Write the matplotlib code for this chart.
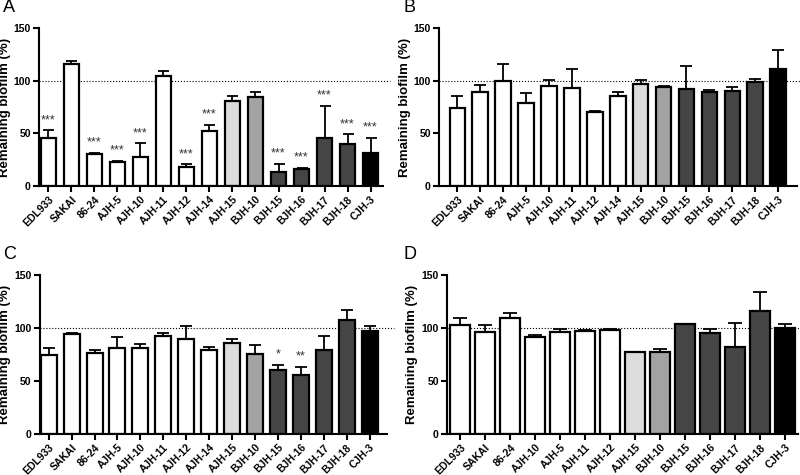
import numpy as np
import matplotlib
matplotlib.use("Agg")
import matplotlib.pyplot as plt

plt.rcParams['font.family'] = ['Liberation Sans', 'DejaVu Sans']

# strain labels
strains_abc = ['EDL933', 'SAKAI', '86-24', 'AJH-5', 'AJH-10', 'AJH-11', 'AJH-12',
               'AJH-14', 'AJH-15', 'BJH-10', 'BJH-15', 'BJH-16', 'BJH-17', 'BJH-18', 'CJH-3']
strains_d = ['EDL933', 'SAKAI', '86-24', 'AJH-10', 'AJH-5', 'AJH-11', 'AJH-12',
             'AJH-15', 'BJH-10', 'BJH-15', 'BJH-16', 'BJH-17', 'BJH-18', 'CJH-3']

# group colours for each strain
group_color = {'AJH-15': '#dcdcdc', 'BJH-10': '#a3a3a3', 'BJH-15': '#454545',
               'BJH-16': '#454545', 'BJH-17': '#454545', 'BJH-18': '#454545',
               'CJH-3': '#000000'}

# remaining biofilm (%) and upper error
mean_a = [45.5, 115.5, 30, 22.5, 28, 104.5, 18.5, 52.5, 80.5, 84.5, 13, 16, 46, 40, 31]
err_a = [7.5, 3, 1.5, 1.5, 12.5, 4.5, 2, 5.5, 5, 5, 8, 1, 30, 9, 14.5]
sig_a = ['***', '', '***', '***', '***', '', '***', '***', '', '', '***', '***', '***', '***', '***']

mean_b = [74.5, 89.5, 100, 79, 94.5, 93.5, 70, 85.5, 96.5, 94, 92, 89, 90, 98.5, 111]
err_b = [11, 6, 15.5, 9, 6.5, 18, 1.5, 4, 4, 1, 22, 2.5, 4, 3, 18.5]

mean_c = [74.5, 94, 76.7, 81.4, 80.8, 92.8, 89.3, 78.9, 85.8, 75.5, 60, 56, 79.2, 107.5, 97]
err_c = [7, 1, 2.5, 10, 4.4, 2.5, 12.6, 3.5, 3.5, 8.5, 5.4, 7.2, 13.6, 9.5, 5.3]
sig_c = ['', '', '', '', '', '', '', '', '', '', '*', '**', '', '', '']

mean_d = [103, 96.5, 109.7, 91.5, 96, 97.2, 98.4, 77, 77, 103.5, 95.6, 81.8, 116, 99.7]
err_d = [6, 6.6, 4.8, 2.2, 2.8, 0.9, 0.3, 0.3, 3.2, 0.3, 3.4, 23, 17.6, 4.4]

fig = plt.figure(figsize=(8, 4.75), dpi=100)

panels = [
    ('A', strains_abc, mean_a, err_a, sig_a, [0.049, 0.6084, 0.43, 0.3326], (-0.4, 14.55), 0.66, 0.004),
    ('B', strains_abc, mean_b, err_b, None, [0.549, 0.6084, 0.4475, 0.3326], (-0.79, 14.83), 0.68, 0.504),
    ('C', strains_abc, mean_c, err_c, sig_c, [0.05, 0.0863, 0.434, 0.3347], (-0.38, 14.77), 0.7, 0.004),
    ('D', strains_d, mean_d, err_d, None, [0.5588, 0.0863, 0.439, 0.3347], (-0.53, 13.53), 0.8, 0.504),
]

for letter, names, vals, errs, sig, pos, xl, bw, lx in panels:
    ax = fig.add_axes(pos)
    x = np.arange(len(names))
    cols = [group_color.get(n, 'white') for n in names]
    ax.bar(x, vals, width=bw, color=cols, edgecolor='black', linewidth=1.6, zorder=2)
    ax.errorbar(x, vals, yerr=[np.zeros(len(vals)), errs], fmt='none', ecolor='black',
                elinewidth=1.3, capsize=bw * 6, capthick=1.3, zorder=1)
    ax.plot([xl[0], xl[1] + 0.3], [100, 100], ls=':', lw=0.8, color='black', clip_on=False, zorder=0)
    if sig:
        for xi, v, e, s in zip(x, vals, errs, sig):
            if s:
                ax.text(xi, v + e + 4, s, ha='center', va='bottom', fontsize=9, color='#333333')
    ax.set_xlim(*xl)
    ax.set_ylim(0, 150)
    ax.set_yticks([0, 50, 100, 150])
    ax.set_xticks(x)
    ax.set_xticklabels(names, rotation=45, ha='right', rotation_mode='anchor',
                       fontsize=7.5, fontweight='bold')
    for lab in ax.get_yticklabels():
        lab.set_fontweight('bold')
        lab.set_fontsize(7.5)
    ax.set_ylabel('Remaining biofilm (%)', fontsize=9.5, fontweight='bold')
    ax.yaxis.set_label_coords(-0.083 * 0.43 / pos[2], 0.5)
    for sp in ['top', 'right']:
        ax.spines[sp].set_visible(False)
    for sp in ['left', 'bottom']:
        ax.spines[sp].set_linewidth(1.5)
    ax.tick_params(width=1.5, length=4, pad=2)
    ty = pos[1] + pos[3] + 0.043
    fig.text(lx, ty, letter, fontsize=13, va='center', ha='left')

fig.savefig('out.png', dpi=100)
